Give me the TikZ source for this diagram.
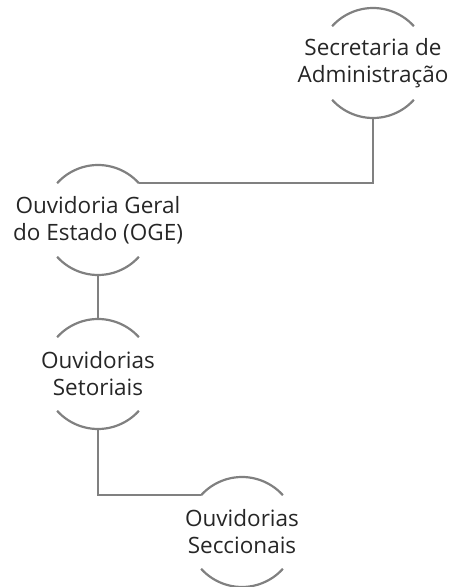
\documentclass[tikz,border=0pt]{standalone}
\usepackage{fontspec}
\setmainfont{Open Sans}
\usepackage{tikz}

\begin{document}
\begin{tikzpicture}[x=1pt, y=1pt,
    unit/.style={inner sep=0pt, align=center, text=black!85,
                 font=\fontsize{22.5}{27}\selectfont},
    rim/.style={draw=gray, line width=2.2pt},
    link/.style={draw=gray, line width=2.2pt}]
	\useasboundingbox (0,0) rectangle (451,587);
	
	\node[unit] (sec) at (373, 524) {Secretaria de\\Administração};
	\node[unit] (oge) at (98, 367) {Ouvidoria Geral\\do Estado (OGE)};
	\node[unit] (set) at (98, 213) {Ouvidorias\\Setoriais};
	\node[unit] (secc) at (242, 55) {Ouvidorias\\Seccionais};
	
	% two arcs of radius 55 round each label
	\foreach \n in {sec, oge, set, secc} {
		\path (\n.center) ++(42:55pt) coordinate (\n-ne)
		      (\n.center) ++(138:55pt) coordinate (\n-nw)
		      (\n.center) ++(-138:55pt) coordinate (\n-sw)
		      (\n.center) ++(90:55pt) coordinate (\n-n)
		      (\n.center) ++(-90:55pt) coordinate (\n-s);
		\draw[rim] (\n-ne) arc[start angle=42, end angle=138, radius=55pt];
		\draw[rim] (\n-sw) arc[start angle=-138, end angle=-42, radius=55pt];
	}
	
	\draw[link] (sec-s) |- (oge-ne);
	\draw[link] (oge-s) -- (set-n);
	\draw[link] (set-s) |- (secc-nw);
\end{tikzpicture}
\end{document}
